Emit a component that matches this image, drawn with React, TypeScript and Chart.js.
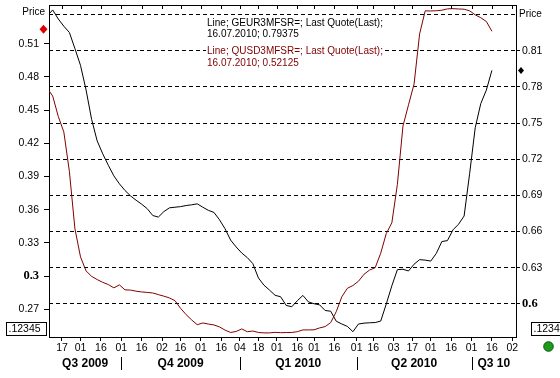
import React, { useEffect, useRef } from 'react';
import { Chart, registerables } from 'chart.js';

Chart.register(...registerables);

// ---- calendar (trading days, UK holidays skipped) ----
const HOLIDAYS = ['2009-08-31', '2009-12-25', '2009-12-28', '2010-01-01', '2010-04-02', '2010-04-05', '2010-05-31'];
const CAL_START = '2009-07-01';
const CAL_END = '2010-08-31';
const BASE_DATE = '2009-08-17';
const X_START = '2009-08-06';
const X_END = '2010-08-04';
const LAST_DATE = '2010-07-16';

// ---- axis ticks ----
const TICK_DATES = [
  '2009-08-17', '2009-09-01', '2009-09-16', '2009-10-01', '2009-10-16', '2009-11-02', '2009-11-16',
  '2009-12-01', '2009-12-16', '2010-01-04', '2010-01-18', '2010-02-01', '2010-02-16', '2010-03-01',
  '2010-03-16', '2010-04-01', '2010-04-16', '2010-05-03', '2010-05-17', '2010-06-01', '2010-06-16',
  '2010-07-01', '2010-07-16', '2010-08-02',
];
const QUARTER_LABELS = ['Q3 2009', 'Q4 2009', 'Q1 2010', 'Q2 2010', 'Q3 10'];
const QUARTER_BREAKS = ['2009-10-01', '2010-01-04', '2010-04-01', '2010-07-01'];
const LEFT_TICKS = [0.27, 0.3, 0.33, 0.36, 0.39, 0.42, 0.45, 0.48, 0.51];
const RIGHT_TICKS = [0.6, 0.63, 0.66, 0.69, 0.72, 0.75, 0.78, 0.81, 0.84];
const LEFT_RANGE = [0.245, 0.545];
const RIGHT_RANGE = [0.5725, 0.848];

// ---- series (every 3rd trading day, ending 16.07.2010) ----
const GEUR = [
  0.8389, 0.8439, 0.8364, 0.8304, 0.8252, 0.8118, 0.7979, 0.7775, 0.7531, 0.7352,
  0.7245, 0.7150, 0.7062, 0.6996, 0.6941, 0.6896, 0.6860, 0.6827, 0.6790, 0.6733,
  0.6720, 0.6766, 0.6797, 0.6802, 0.6807, 0.6816, 0.6822, 0.6830, 0.6802, 0.6776,
  0.6759, 0.6698, 0.6623, 0.6529, 0.6472, 0.6422, 0.6384, 0.6334, 0.6215, 0.6155,
  0.6114, 0.6071, 0.6059, 0.5987, 0.5976, 0.6026, 0.6070, 0.6016, 0.6001, 0.5992,
  0.5945, 0.5939, 0.5856, 0.5833, 0.5813, 0.5769, 0.5833, 0.5840, 0.5843, 0.5845,
  0.5857, 0.5999, 0.6150, 0.6284, 0.6287, 0.6273, 0.6329, 0.6367, 0.6363, 0.6355,
  0.6419, 0.6517, 0.6525, 0.6614, 0.6661, 0.6729, 0.7083, 0.7462, 0.7662, 0.7774,
  0.79375,
];
const QUSD = [
  0.4700, 0.4627, 0.4443, 0.4303, 0.3946, 0.3427, 0.3174, 0.3047, 0.2998, 0.2969,
  0.2944, 0.2924, 0.2894, 0.2921, 0.2876, 0.2874, 0.2864, 0.2857, 0.2853, 0.2848,
  0.2833, 0.2819, 0.2803, 0.2778, 0.2709, 0.2652, 0.2604, 0.2561, 0.2577, 0.2567,
  0.2559, 0.2541, 0.2512, 0.2491, 0.2500, 0.2523, 0.2498, 0.2504, 0.2491, 0.2487,
  0.2487, 0.2492, 0.2489, 0.2490, 0.2491, 0.2498, 0.2514, 0.2514, 0.2515, 0.2532,
  0.2544, 0.2580, 0.2679, 0.2813, 0.2890, 0.2915, 0.2954, 0.3017, 0.3055, 0.3076,
  0.3207, 0.3385, 0.3481, 0.3830, 0.4356, 0.4548, 0.4736, 0.5190, 0.5397, 0.5396,
  0.5398, 0.5403, 0.5415, 0.5417, 0.5414, 0.5412, 0.5397, 0.5361, 0.5335, 0.5301,
  0.52125,
];
const SAMPLE_STEP = 3;

const LEGEND_LINES = [
  { text: 'Line; GEUR3MFSR=; Last Quote(Last);', color: '#000000' },
  { text: '16.07.2010; 0.79375', color: '#000000' },
  { text: 'Line; QUSD3MFSR=; Last Quote(Last);', color: '#800000' },
  { text: '16.07.2010; 0.52125', color: '#800000' },
];

const RED = '#800000';
const SANS = "'Liberation Sans', Arial, sans-serif";
const SERIF = "'Liberation Serif', 'Times New Roman', serif";

const HOLI = new Set(HOLIDAYS);
const TRADING_DAYS: string[] = (() => {
  const out: string[] = [];
  const end = Date.parse(CAL_END + 'T00:00:00Z');
  for (let t = Date.parse(CAL_START + 'T00:00:00Z'); t <= end; t += 86400000) {
    const d = new Date(t);
    const wd = d.getUTCDay();
    const s = d.toISOString().slice(0, 10);
    if (wd !== 0 && wd !== 6 && !HOLI.has(s)) out.push(s);
  }
  return out;
})();
const countBefore = (s: string) => TRADING_DAYS.filter((d) => d < s).length;
const BASE_COUNT = countBefore(BASE_DATE);
const tIndex = (s: string) => countBefore(s) - BASE_COUNT;
const LAST_POS = TRADING_DAYS.indexOf(LAST_DATE);
const SAMPLE_DATES = GEUR.map((_, k) => TRADING_DAYS[LAST_POS - SAMPLE_STEP * (GEUR.length - 1 - k)]);

const near = (a: number, b: number) => Math.abs(a - b) < 1e-6;

const framePlugin = {
  id: 'frame',
  afterDraw(chart: any) {
    const { ctx, chartArea } = chart;
    const xs = chart.scales.x;
    const yl = chart.scales.y;
    const yr = chart.scales.y2;
    const { left, right, top } = chartArea;
    ctx.save();
    ctx.strokeStyle = '#000';
    ctx.lineWidth = 1;
    // top border + inward tick marks
    ctx.beginPath();
    ctx.moveTo(left, Math.round(top) + 0.5);
    ctx.lineTo(right + 1, Math.round(top) + 0.5);
    TICK_DATES.forEach((d) => {
      const px = Math.round(xs.getPixelForValue(tIndex(d))) + 0.5;
      ctx.moveTo(px, top);
      ctx.lineTo(px, top + 4);
    });
    ctx.stroke();

    // legend texts
    ctx.font = `10px ${SANS}`;
    ctx.textBaseline = 'middle';
    ctx.textAlign = 'left';
    const ly = [23, 34.5, 51.5, 63];
    LEGEND_LINES.forEach((l, i) => {
      const w = ctx.measureText(l.text).width;
      ctx.fillStyle = '#fff';
      ctx.fillRect(206, ly[i] - 6, w + 2, 12);
      ctx.fillStyle = l.color;
      ctx.fillText(l.text, 207, ly[i]);
    });

    // "Price" labels
    ctx.fillStyle = '#000';
    ctx.textAlign = 'right';
    ctx.fillText('Price', 45, 12.5);
    ctx.textAlign = 'left';
    ctx.fillText('Price', 519, yr.getPixelForValue(0.84));

    // last value diamonds
    const diamond = (cx: number, cy: number, hw: number, hh: number, color: string) => {
      ctx.fillStyle = color;
      ctx.beginPath();
      ctx.moveTo(cx, cy - hh);
      ctx.lineTo(cx + hw, cy);
      ctx.lineTo(cx, cy + hh);
      ctx.lineTo(cx - hw, cy);
      ctx.closePath();
      ctx.fill();
    };
    diamond(left - 5.5, yl.getPixelForValue(QUSD[QUSD.length - 1]) - 2, 4, 4.5, '#e00000');
    diamond(right + 5, yr.getPixelForValue(GEUR[GEUR.length - 1]), 3, 3.5, '#000');

    // price format boxes
    ctx.font = `10.5px ${SANS}`;
    ctx.textAlign = 'left';
    ctx.fillStyle = '#000';
    ctx.strokeRect(6.5, 322.5, 40, 13);
    ctx.fillText('.12345', 8.5, 329.5);
    ctx.strokeRect(531.5, 322.5, 40, 13);
    ctx.fillText('.12345', 533.5, 329.5);

    // green status dot
    ctx.beginPath();
    ctx.arc(548.5, 346.5, 4.8, 0, Math.PI * 2);
    ctx.fillStyle = '#1c9a1c';
    ctx.fill();
    ctx.strokeStyle = '#0a5a0a';
    ctx.stroke();

    // quarter labels and separators
    const bounds = [xs.min, ...QUARTER_BREAKS.map((d) => tIndex(d)), xs.max].map((v) => xs.getPixelForValue(v));
    ctx.font = `bold 12px ${SANS}`;
    ctx.textAlign = 'center';
    ctx.fillStyle = '#000';
    QUARTER_LABELS.forEach((q, i) => {
      ctx.fillText(q, (bounds[i] + bounds[i + 1]) / 2, 363.5);
    });
    ctx.strokeStyle = '#000';
    ctx.beginPath();
    QUARTER_BREAKS.forEach((d) => {
      const px = Math.round(xs.getPixelForValue(tIndex(d))) + 0.5;
      ctx.moveTo(px, 357);
      ctx.lineTo(px, 370);
    });
    ctx.stroke();
    ctx.restore();
  },
};

const tickFont = (special: number) => (c: any) =>
  c.tick && near(c.tick.value, special)
    ? { family: SERIF, size: 12.5, weight: 'bold' }
    : { family: SANS, size: 10.5 };

export default function App() {
  const ref = useRef<HTMLCanvasElement | null>(null);
  useEffect(() => {
    document.body.style.margin = '0';
    const canvas = ref.current;
    if (!canvas) return;
    const chart = new Chart(canvas, {
      type: 'line',
      data: {
        datasets: [
          {
            label: 'QUSD3MFSR=',
            data: SAMPLE_DATES.map((d, i) => ({ x: tIndex(d), y: QUSD[i] })),
            yAxisID: 'y',
            borderColor: RED,
            borderWidth: 1,
            pointRadius: 0,
            tension: 0,
            fill: false,
          },
          {
            label: 'GEUR3MFSR=',
            data: SAMPLE_DATES.map((d, i) => ({ x: tIndex(d), y: GEUR[i] })),
            yAxisID: 'y2',
            borderColor: '#000000',
            borderWidth: 1,
            pointRadius: 0,
            tension: 0,
            fill: false,
          },
        ],
      },
      options: {
        responsive: false,
        animation: false,
        devicePixelRatio: 1,
        events: [],
        layout: { padding: { top: 5, left: 0, right: 0, bottom: 0 } },
        plugins: { legend: { display: false }, tooltip: { enabled: false }, title: { display: false } },
        scales: {
          x: {
            type: 'linear',
            position: 'bottom',
            min: tIndex(X_START),
            max: tIndex(X_END),
            afterBuildTicks: (s: any) => {
              s.ticks = TICK_DATES.map((d) => ({ value: tIndex(d) }));
            },
            afterFit: (s: any) => {
              s.height = 41;
              s.paddingLeft = 0;
              s.paddingRight = 0;
            },
            ticks: {
              autoSkip: false,
              maxRotation: 0,
              minRotation: 0,
              padding: 1,
              color: '#000',
              font: { family: SANS, size: 10.5 },
              callback: (_v: any, i: number) => TICK_DATES[i].slice(8),
            },
            grid: { drawOnChartArea: false, drawTicks: true, tickLength: 4, color: '#000' },
            border: { display: true, color: '#000' },
          },
          y: {
            type: 'linear',
            position: 'left',
            min: LEFT_RANGE[0],
            max: LEFT_RANGE[1],
            afterBuildTicks: (s: any) => {
              s.ticks = LEFT_TICKS.map((v) => ({ value: v }));
            },
            afterFit: (s: any) => {
              s.width = 49;
              s.paddingTop = 0;
              s.paddingBottom = 0;
            },
            ticks: {
              padding: 5,
              color: '#000',
              font: tickFont(0.3),
              callback: (v: any) => String(+Number(v).toFixed(2)),
            },
            grid: { drawOnChartArea: false, drawTicks: true, tickLength: 5, color: '#000' },
            border: { display: true, color: '#000' },
          },
          y2: {
            type: 'linear',
            position: 'right',
            min: RIGHT_RANGE[0],
            max: RIGHT_RANGE[1],
            afterBuildTicks: (s: any) => {
              s.ticks = RIGHT_TICKS.map((v) => ({ value: v }));
            },
            afterFit: (s: any) => {
              s.width = 44;
              s.paddingTop = 0;
              s.paddingBottom = 0;
            },
            ticks: {
              padding: 2,
              color: '#000',
              font: tickFont(0.6),
              callback: (v: any) => (near(Number(v), 0.84) ? '' : String(+Number(v).toFixed(2))),
            },
            grid: {
              drawOnChartArea: true,
              drawTicks: true,
              tickLength: 4,
              color: '#000',
              tickColor: (c: any) => (c.tick && near(c.tick.value, 0.84) ? 'rgba(0,0,0,0)' : '#000'),
            },
            border: { display: true, color: '#000', dash: [4, 3] },
          },
        },
      },
      plugins: [framePlugin],
    } as any);
    return () => chart.destroy();
  }, []);
  return (
    <canvas
      ref={ref}
      width={560}
      height={378}
      style={{ display: 'block', width: '560px', height: '378px', background: '#fff' }}
    />
  );
}
